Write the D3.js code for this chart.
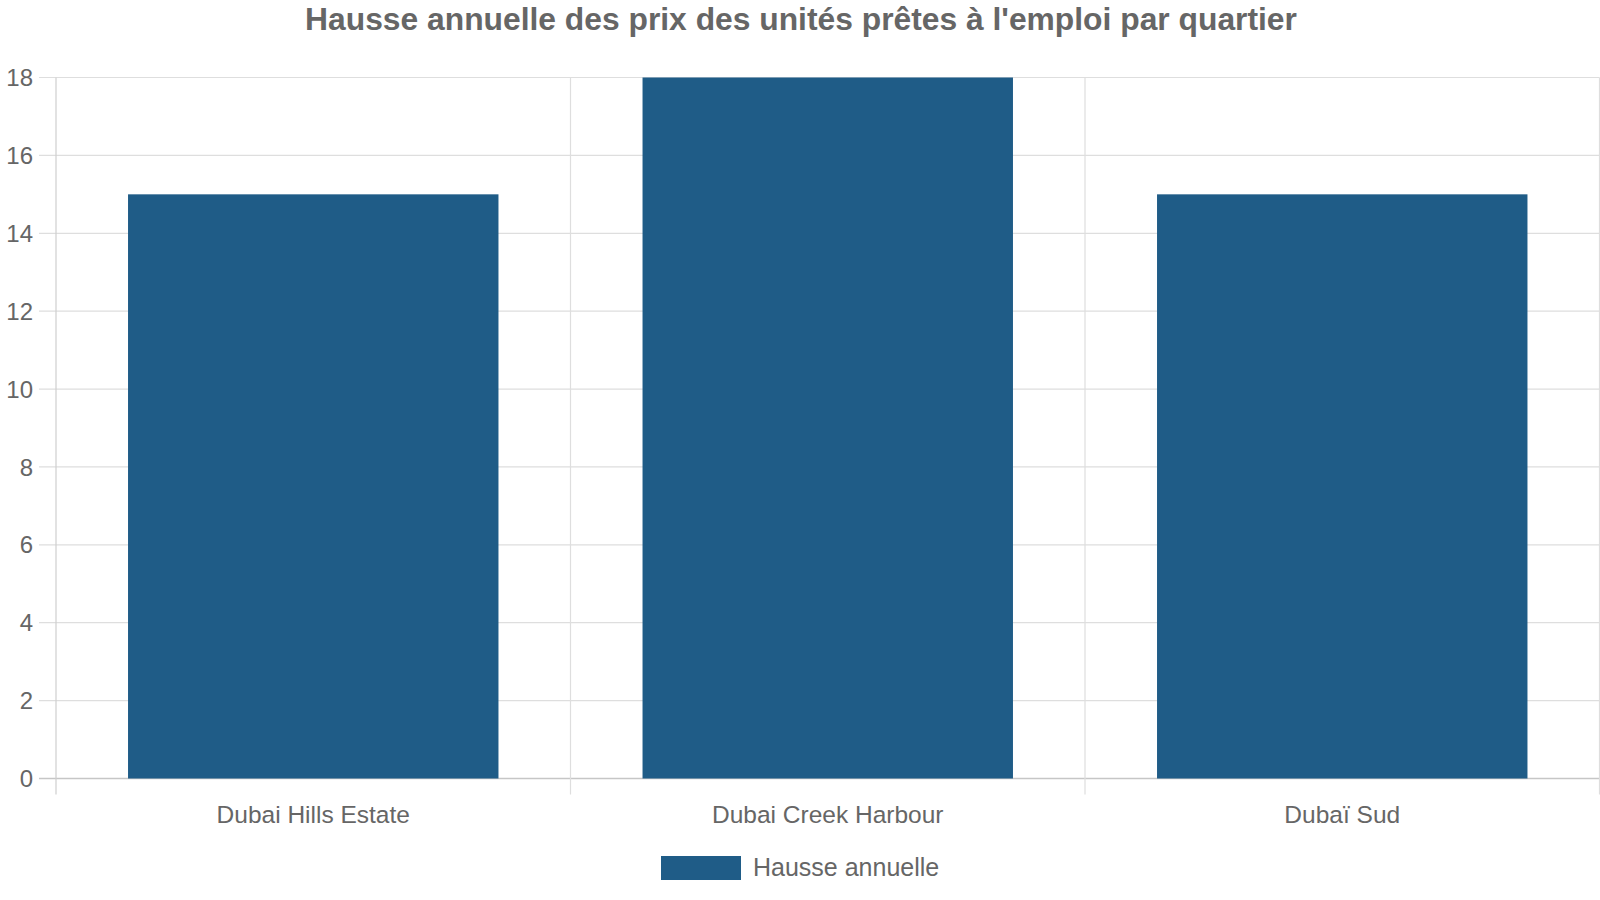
<!DOCTYPE html>
<html><head><meta charset="utf-8">
<script src="https://cdn.jsdelivr.net/npm/d3@7"></script>
<style>body{margin:0;background:#fff;}svg{display:block;font-family:"Liberation Sans",Arial,sans-serif;}</style>
</head><body>
<svg id="c" width="1600" height="900"></svg>
<script>
const categories = ["Dubai Hills Estate", "Dubai Creek Harbour", "Dubaï Sud"];
const values = [15, 18, 15];
const yTicks = [0, 2, 4, 6, 8, 10, 12, 14, 16, 18];
const seriesName = "Hausse annuelle";
const title = "Hausse annuelle des prix des unités prêtes à l'emploi par quartier";

const svg = d3.select("#c");
const m = {l: 56, r: 1599.5, t: 77.5, b: 778.5};
const barColor = "#1f5c87";
const textColor = "#666";

const x = d3.scaleBand().domain(categories).range([m.l, m.r]).paddingInner(0).paddingOuter(0);
const y = d3.scaleLinear().domain([0, 18]).range([m.b, m.t]);

// horizontal grid
svg.append("g").selectAll("line").data(yTicks).join("line")
  .attr("x1", 39).attr("x2", m.r)
  .attr("y1", d => y(d)).attr("y2", d => y(d))
  .attr("stroke", d => d === 0 ? "#c6c6c6" : "#dedede").attr("stroke-width", d => d === 0 ? 1.5 : 1.2);

// vertical grid
const vx = categories.map(c => x(c)).concat([m.r]);
svg.append("g").selectAll("line").data(vx).join("line")
  .attr("x1", d => d).attr("x2", d => d)
  .attr("y1", m.t).attr("y2", m.b + 16)
  .attr("stroke", (d,i) => i === 0 ? "#cfcfcf" : "#dedede").attr("stroke-width", 1.2);

// bars
const bw = x.bandwidth() * 0.72;
svg.append("g").selectAll("rect").data(values).join("rect")
  .attr("x", (d,i) => x(categories[i]) + (x.bandwidth() - bw) / 2)
  .attr("width", bw)
  .attr("y", d => y(d))
  .attr("height", d => y(0) - y(d))
  .attr("fill", barColor);

// y tick labels
svg.append("g").selectAll("text").data(yTicks).join("text")
  .attr("x", 33).attr("y", d => y(d)).attr("dy", "0.36em")
  .attr("text-anchor", "end").attr("font-size", 24).attr("fill", textColor)
  .text(d => d);

// x labels
svg.append("g").selectAll("text").data(categories).join("text")
  .attr("x", d => x(d) + x.bandwidth() / 2).attr("y", 814.5).attr("dy", "0.36em")
  .attr("text-anchor", "middle").attr("font-size", 24.5).attr("fill", textColor)
  .text(d => d);

// title
svg.append("text").attr("x", 801).attr("y", 19).attr("dy", "0.36em")
  .attr("text-anchor", "middle").attr("font-size", 31.8).attr("font-weight", "bold")
  .attr("fill", textColor).text(title);

// legend
svg.append("rect").attr("x", 661).attr("y", 856).attr("width", 80).attr("height", 24).attr("fill", barColor);
svg.append("text").attr("x", 753).attr("y", 867).attr("dy", "0.36em")
  .attr("font-size", 25).attr("fill", textColor).text(seriesName);
</script>
</body></html>
